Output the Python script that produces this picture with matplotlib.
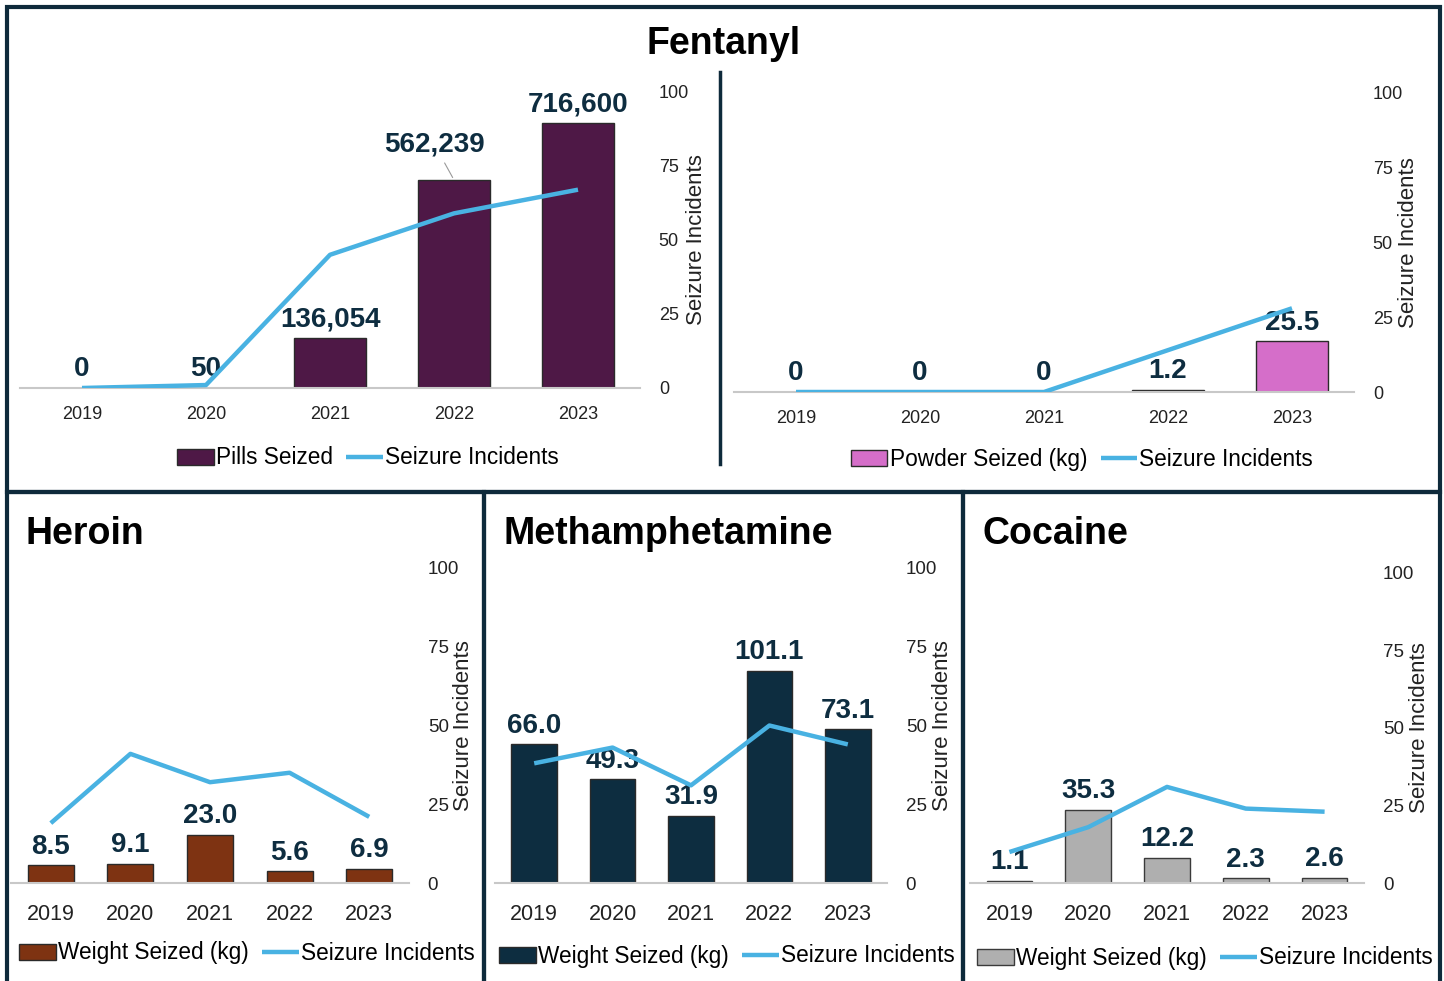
import matplotlib.pyplot as plt
from matplotlib.patches import Rectangle
from matplotlib.lines import Line2D

plt.rcParams['font.family'] = ['Liberation Sans', 'DejaVu Sans']

years = ['2019', '2020', '2021', '2022', '2023']

pills = [0, 50, 136054, 562239, 716600]
pills_inc = [0, 1, 45, 59, 67]
powder = [0, 0, 0, 1.2, 25.5]
powder_inc = [0, 0, 0, 14, 28]
heroin = [8.5, 9.1, 23.0, 5.6, 6.9]
heroin_inc = [19, 41, 32, 35, 21]
meth = [66.0, 49.3, 31.9, 101.1, 73.1]
meth_inc = [38, 43, 31, 50, 44]
cocaine = [1.1, 35.3, 12.2, 2.3, 2.6]
cocaine_inc = [10, 18, 31, 24, 23]

W, H = 1444, 981
NAVY = '#0e2d40'
LINE = '#49b2e2'

fig = plt.figure(figsize=(W / 100, H / 100), dpi=100)


def px(l, t, r, b):
    return [l / W, 1 - b / H, (r - l) / W, (b - t) / H]


def panel(box, vals, inc, color, name, labels, ymax, tick_fs, rtick_fs, xpad,
          lab_x, leg_xy, edge='#2a2a2a', leader=None):
    l, t, r, b = box
    ax = fig.add_axes(px(l, t, r, b))
    x = list(range(len(years)))
    bars = ax.bar(x, vals, 0.58, color=color, edgecolor=edge, linewidth=1)
    ax.set_xlim(-0.5, 4.5)
    ax.set_ylim(0, ymax)
    ax.set_xticks(x)
    ax.set_xticklabels(years)
    ax.tick_params(axis='x', length=0, pad=xpad, labelsize=tick_fs, colors='#222222')
    ax.set_yticks([])
    for s in ['top', 'left', 'right']:
        ax.spines[s].set_visible(False)
    ax.spines['bottom'].set_color('#c8c8c8')
    ax.spines['bottom'].set_linewidth(1.5)

    for i, v in enumerate(vals):
        off, arrow = (0, 4), None
        if leader == i:
            off = (-14, 16)
            arrow = dict(arrowstyle='-', color='#999999', lw=0.8)
        ax.annotate(labels[i], (i, v), xytext=off, textcoords='offset points',
                    ha='center', va='bottom', fontsize=20, fontweight='bold',
                    color=NAVY, arrowprops=arrow)

    ax2 = ax.twinx()
    ln, = ax2.plot(x, inc, color=LINE, lw=3.2, solid_capstyle='butt')
    ax2.set_ylim(0, 100)
    ax2.set_yticks([0, 25, 50, 75, 100])
    ax2.tick_params(axis='y', length=0, pad=13.5, labelsize=rtick_fs, colors='#222222')
    ax2.set_ylabel('Seizure Incidents', fontsize=16, color='#222222')
    ax2.yaxis.set_label_coords((lab_x - l) / (r - l), 0.5)
    for s in ax2.spines.values():
        s.set_visible(False)

    ax.legend([bars, ln], [name, 'Seizure Incidents'], loc='center',
              bbox_to_anchor=(leg_xy[0] / W, 1 - leg_xy[1] / H),
              bbox_transform=fig.transFigure, ncol=2, frameon=False,
              fontsize=16.3, handlelength=1.6, handleheight=0.7,
              handletextpad=0.1, columnspacing=0.6)
    return ax


pill_labels = [f'{v:,}' for v in pills]
powder_labels = ['0' if v == 0 else f'{v:.1f}' for v in powder]

panel((20, 92, 640, 388), pills, pills_inc, '#4e1846', 'Pills Seized',
      pill_labels, 800000, 13, 13, 13, 686, (368, 458), leader=3)
panel((734, 93, 1354, 392), powder, powder_inc, '#d56ec9', 'Powder Seized (kg)',
      powder_labels, 150, 13, 13, 13, 1398, (1082, 459))
panel((11, 568, 409, 883), heroin, heroin_inc, '#7e3312', 'Weight Seized (kg)',
      [f'{v:.1f}' for v in heroin], 150, 15.5, 13.5, 15, 453, (247, 953))
panel((495, 568, 887, 883), meth, meth_inc, '#0d2d40', 'Weight Seized (kg)',
      [f'{v:.1f}' for v in meth], 150, 15.5, 13.5, 15, 932, (727, 956))
panel((970, 573, 1364, 883), cocaine, cocaine_inc, '#afafaf', 'Weight Seized (kg)',
      [f'{v:.1f}' for v in cocaine], 150, 15.5, 13.5, 15, 1409, (1205, 958),
      edge='#3a3a3a')

# titles
fig.text(724 / W, 1 - 44 / H, 'Fentanyl', ha='center', va='center',
         fontsize=27, fontweight='bold', color='black')
for x0, name in [(25, 'Heroin'), (504, 'Methamphetamine'), (983, 'Cocaine')]:
    fig.text(x0 / W, 1 - 534 / H, name, ha='left', va='center',
             fontsize=27, fontweight='bold', color='black')

# panel frames
BORDER = '#0e2a3b'
for l, t, r, b in [(7, 7, 1440, 492), (7, 492, 484, 985),
                   (484, 492, 963, 985), (963, 492, 1440, 985)]:
    fig.add_artist(Rectangle((l / W, 1 - b / H), (r - l) / W, (b - t) / H,
                             transform=fig.transFigure, fill=False,
                             ec=BORDER, lw=3))
fig.add_artist(Line2D([720 / W, 720 / W], [1 - 72 / H, 1 - 464 / H],
                      transform=fig.transFigure, color=BORDER, lw=2.5))

plt.savefig('out.png', dpi=100)
